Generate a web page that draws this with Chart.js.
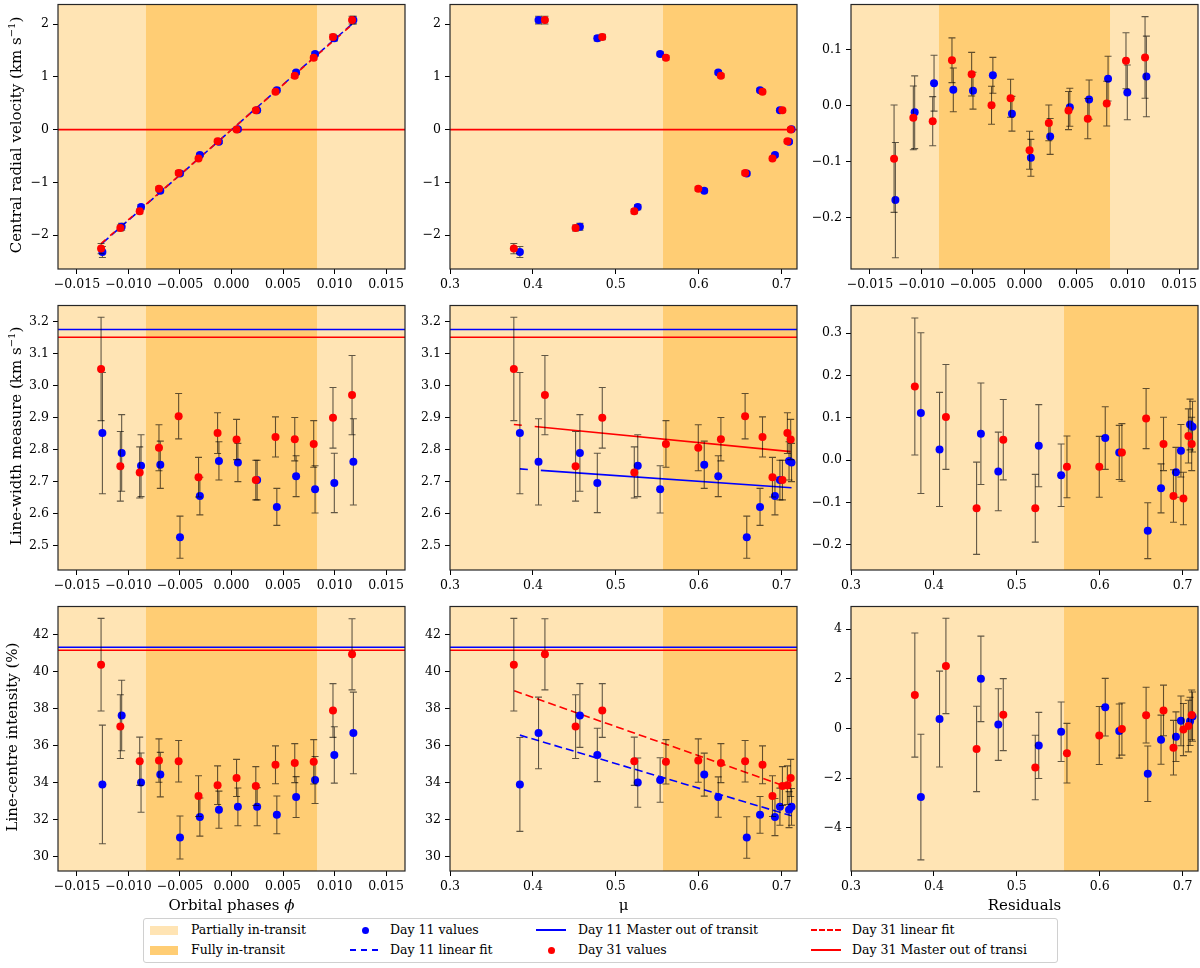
<!DOCTYPE html>
<html>
<head>
<meta charset="utf-8">
<script src="https://cdn.jsdelivr.net/npm/chart.js@4.4.0/dist/chart.umd.min.js"></script>
<style>
  body { margin: 0; background: #fff; width: 1200px; height: 968px; position: relative; overflow: hidden;
         font-family: 'DejaVu Serif', serif; color: #000; }
  canvas { position: absolute; }
  .ytitle { position: absolute; width: 320px; height: 20px; line-height: 20px; text-align: center;
            font-size: 15px; white-space: nowrap; transform: rotate(-90deg); }
  .xtitle { position: absolute; width: 300px; text-align: center; font-size: 15px; white-space: nowrap; }
  #legend { position: absolute; left: 143px; top: 918px; width: 913px; height: 43px;
            border: 1px solid #d0d0d0; border-radius: 3px; background: #fff; }
  .lg { position: absolute; font-size: 12.5px; white-space: nowrap; line-height: 16px; }
  .patch { position: absolute; width: 28px; height: 9px; }
  .dot { position: absolute; width: 7px; height: 7px; border-radius: 50%; }
  .ln { position: absolute; width: 30px; height: 0; border-top-width: 2px; }
</style>
</head>
<body>
<script>
// ---- data ----
var phase31 = [-0.01266, -0.01079, -0.00891, -0.00704, -0.00513, -0.00320, -0.00135, 0.00049, 0.00236, 0.00427, 0.00614, 0.00798, 0.00985, 0.01170];
var phase11 = [-0.01253, -0.01066, -0.00878, -0.00691, -0.00500, -0.00307, -0.00122, 0.00062, 0.00249, 0.00440, 0.00627, 0.00811, 0.00998, 0.01183];
var mu31 = [0.3770, 0.4515, 0.5223, 0.5995, 0.6560, 0.6890, 0.7070, 0.7110, 0.7010, 0.6770, 0.6268, 0.5605, 0.4837, 0.4145];
var mu11 = [0.3843, 0.4567, 0.5265, 0.6067, 0.6580, 0.6920, 0.7090, 0.7120, 0.6980, 0.6740, 0.6236, 0.5535, 0.4777, 0.4068];

var rv31 = [-2.254, -1.863, -1.548, -1.121, -0.821, -0.548, -0.220, 0.001, 0.368, 0.715, 1.019, 1.360, 1.754, 2.075];
var rv11 = [-2.318, -1.841, -1.467, -1.158, -0.832, -0.479, -0.231, 0.009, 0.368, 0.747, 1.082, 1.434, 1.730, 2.075];
var rvErr31 = [0.096, 0.057, 0.044, 0.040, 0.039, 0.034, 0.034, 0.034, 0.032, 0.034, 0.036, 0.040, 0.050, 0.073];
var rvErr11 = [0.103, 0.065, 0.050, 0.039, 0.033, 0.032, 0.031, 0.033, 0.032, 0.034, 0.035, 0.040, 0.049, 0.072];
var rvRes31 = [-0.095, -0.022, -0.028, 0.081, 0.056, 0.0005, 0.013, -0.080, -0.031, -0.009, -0.0235, 0.0035, 0.080, 0.086];
var rvRes11 = [-0.169, -0.012, 0.040, 0.028, 0.0265, 0.054, -0.0147, -0.0935, -0.0553, -0.003, 0.0106, 0.048, 0.0235, 0.052];

var lw31 = [3.053, 2.748, 2.729, 2.806, 2.905, 2.714, 2.852, 2.832, 2.705, 2.840, 2.833, 2.818, 2.900, 2.971];
var lw11 = [2.852, 2.790, 2.750, 2.753, 2.526, 2.655, 2.765, 2.760, 2.705, 2.621, 2.717, 2.676, 2.696, 2.762];
var lwErr31 = [0.162, 0.109, 0.080, 0.072, 0.071, 0.062, 0.064, 0.063, 0.062, 0.063, 0.068, 0.073, 0.095, 0.124];
var lwErr11 = [0.190, 0.120, 0.097, 0.074, 0.066, 0.059, 0.060, 0.060, 0.062, 0.058, 0.064, 0.074, 0.093, 0.135];
var lwRes31 = [0.174, -0.114, -0.114, -0.016, 0.098, -0.085, 0.057, 0.038, -0.091, 0.038, 0.018, -0.016, 0.048, 0.102];
var lwRes11 = [0.111, 0.062, 0.034, 0.052, -0.167, -0.029, 0.084, 0.079, 0.022, -0.067, 0.018, -0.036, -0.027, 0.025];

var int31 = [40.36, 37.02, 35.15, 35.19, 35.15, 33.27, 33.86, 34.25, 33.81, 34.96, 35.05, 35.12, 37.89, 40.92];
var int11 = [33.90, 37.62, 34.00, 34.43, 31.04, 32.14, 32.54, 32.69, 32.70, 32.26, 33.22, 34.14, 35.49, 36.68];
var intErr31 = [2.50, 1.72, 1.30, 1.17, 1.12, 1.10, 1.04, 1.00, 1.05, 1.02, 1.05, 1.20, 1.45, 1.92];
var intErr11 = [3.20, 1.90, 1.60, 1.20, 1.16, 1.03, 1.00, 1.02, 1.03, 1.02, 1.10, 1.27, 1.52, 2.20];
// day 11 error bars as drawn in the mu and residual panels
var intErrMu11 = [2.53, 1.72, 1.33, 1.16, 1.12, 1.00, 0.97, 0.99, 1.00, 0.99, 1.09, 1.20, 1.44, 1.93];
var intRes31 = [1.35, -0.82, -1.57, -0.28, 0.54, -0.77, 0.10, 0.55, -0.04, 0.73, -0.02, -0.99, 0.56, 2.52];
var intRes11 = [-2.76, 2.00, -0.68, 0.86, -1.82, -0.33, 0.29, 0.48, 0.31, -0.45, -0.10, -0.13, 0.16, 0.38];

// master out of transit [day 11, day 31]
var rvMaster = [0, 0];
var lwMaster = [3.1765, 3.152];
var intMaster = [41.30, 41.14];

// linear fits (end points)
var rvFitX11 = [-0.01253, 0.01183], rvFitY11 = [-2.149, 2.023];
var rvFitX31 = [-0.01266, 0.01170], rvFitY31 = [-2.159, 1.989];
var lwFitX11 = [0.3843, 0.712], lwFitY11 = [2.740, 2.681];
var lwFitX31 = [0.3770, 0.711], lwFitY31 = [2.879, 2.794];
var intFitX11 = [0.3843, 0.712], intFitY11 = [36.56, 32.21];
var intFitX31 = [0.3775, 0.711], intFitY31 = [38.95, 33.70];

// fully in-transit zones
var phaseFull = [-0.0083, 0.0083];
var muFull = [0.557, 0.75];

// ticks
var phaseTicks = [-0.015, -0.010, -0.005, 0, 0.005, 0.010, 0.015];
var muTicks = [0.3, 0.4, 0.5, 0.6, 0.7];
var rvTicks = [-2, -1, 0, 1, 2];
var rvResTicks = [-0.2, -0.1, 0, 0.1];
var lwTicks = [2.5, 2.6, 2.7, 2.8, 2.9, 3.0, 3.1, 3.2];
var lwResTicks = [-0.2, -0.1, 0, 0.1, 0.2, 0.3];
var intTicks = [30, 32, 34, 36, 38, 40, 42];
var intResTicks = [-4, -2, 0, 2, 4];

var BLUE = '#0000ff', RED = '#ff0000';
var LIGHT = 'rgb(255,228,180)', DARK = 'rgb(255,205,116)';

// layout
var COL_LEFT = [58, 450, 851], ROW_TOP = [1, 302, 603], PW = 347, PH = 268;
var L = 50, R = 14, T = 8, B = 26;

var FONT = { family: "'DejaVu Serif', serif", size: 12.5 };

function fmt(d) {
  return function(v) { var s = Math.abs(v).toFixed(d); return (v < -1e-12 ? '\u2212' : '') + s; };
}

function pts(xs, ys) { return xs.map(function(x, i) { return { x: x, y: ys[i] }; }); }

var shadePlugin = {
  id: 'shade',
  beforeDraw: function(chart, args, opts) {
    var a = chart.chartArea, ctx = chart.ctx, xs = chart.scales.x;
    ctx.save();
    ctx.fillStyle = LIGHT;
    ctx.fillRect(a.left, a.top, a.right - a.left, a.bottom - a.top);
    var x0 = Math.max(a.left, xs.getPixelForValue(opts.zone[0]));
    var x1 = Math.min(a.right, xs.getPixelForValue(opts.zone[1]));
    ctx.fillStyle = DARK;
    ctx.fillRect(x0, a.top, x1 - x0, a.bottom - a.top);
    ctx.restore();
  }
};

var hlinePlugin = {
  id: 'hlines',
  beforeDatasetsDraw: function(chart, args, opts) {
    if (!opts.values) return;
    var a = chart.chartArea, ctx = chart.ctx, ys = chart.scales.y;
    ctx.save();
    ctx.lineWidth = 1.6;
    [BLUE, RED].forEach(function(col, i) {
      // the day 11 line is hidden when both masters coincide
      if (i === 0 && opts.values[0] === opts.values[1]) return;
      var y = ys.getPixelForValue(opts.values[i]);
      ctx.strokeStyle = col;
      ctx.beginPath(); ctx.moveTo(a.left, y); ctx.lineTo(a.right, y); ctx.stroke();
    });
    ctx.restore();
  }
};

var errPlugin = {
  id: 'errbars',
  beforeDatasetDraw: function(chart, args) {
    var ds = chart.data.datasets[args.index];
    if (!ds.err) return;
    var ctx = chart.ctx, xs = chart.scales.x, ys = chart.scales.y, a = chart.chartArea;
    ctx.save();
    ctx.beginPath(); ctx.rect(a.left, a.top, a.right - a.left, a.bottom - a.top); ctx.clip();
    ctx.strokeStyle = 'rgba(0,0,0,0.62)';
    ctx.lineWidth = 1.1;
    ds.data.forEach(function(p, i) {
      var px = xs.getPixelForValue(p.x);
      var y1 = ys.getPixelForValue(p.y - ds.err[i]);
      var y2 = ys.getPixelForValue(p.y + ds.err[i]);
      ctx.beginPath();
      ctx.moveTo(px, y1); ctx.lineTo(px, y2);
      ctx.moveTo(px - 3.5, y1); ctx.lineTo(px + 3.5, y1);
      ctx.moveTo(px - 3.5, y2); ctx.lineTo(px + 3.5, y2);
      ctx.stroke();
    });
    ctx.restore();
  }
};

var framePlugin = {
  id: 'frame',
  afterDraw: function(chart) {
    var a = chart.chartArea, ctx = chart.ctx;
    ctx.save();
    ctx.strokeStyle = '#262626';
    ctx.lineWidth = 1.2;
    ctx.strokeRect(a.left, a.top, a.right - a.left, a.bottom - a.top);
    ctx.restore();
  }
};

function axis(range, ticks, dec, isX) {
  return {
    type: 'linear',
    min: range[0], max: range[1],
    afterBuildTicks: function(s) { s.ticks = ticks.map(function(v) { return { value: v }; }); },
    afterFit: function(s) { if (isX) s.height = B; else s.width = L; },
    ticks: { callback: fmt(dec), font: FONT, color: '#000', padding: isX ? 3 : 4,
             autoSkip: false, maxRotation: 0, minRotation: 0 },
    grid: { display: true, drawOnChartArea: false, drawTicks: true, tickLength: 5, color: '#000', lineWidth: 1 },
    border: { display: false }
  };
}

function scatterSet(xs, ys, err, color, order) {
  return { type: 'scatter', data: pts(xs, ys), err: err, backgroundColor: color, borderColor: color,
           pointRadius: 4, pointBorderWidth: 0, pointHoverRadius: 4, order: order };
}

function lineSet(xs, ys, color, dash, order) {
  return { type: 'line', data: pts(xs, ys), borderColor: color, borderWidth: 1.6, borderDash: dash,
           pointRadius: 0, fill: false, tension: 0, order: order };
}

function panel(col, row, p) {
  var c = document.createElement('canvas');
  var w = L + PW + R, h = T + PH + B;
  c.width = w; c.height = h;
  c.style.left = (COL_LEFT[col] - L) + 'px';
  c.style.top = (ROW_TOP[row] - T) + 'px';
  c.style.width = w + 'px'; c.style.height = h + 'px';
  document.body.appendChild(c);
  var sets = [
    scatterSet(p.x11, p.y11, p.e11, BLUE, 2),
    scatterSet(p.x31, p.y31, p.e31, RED, 1)
  ];
  (p.lines || []).forEach(function(l) { sets.push(l); });
  new Chart(c, {
    type: 'scatter',
    data: { datasets: sets },
    options: {
      responsive: false, animation: false, devicePixelRatio: 1,
      layout: { padding: { left: 0, right: R, top: T, bottom: 0 } },
      plugins: { legend: { display: false }, tooltip: { enabled: false },
                 shade: { zone: p.zone }, hlines: { values: p.master } },
      scales: { x: axis(p.xr, p.xt, p.xd, true), y: axis(p.yr, p.yt, p.yd, false) }
    },
    plugins: [shadePlugin, hlinePlugin, errPlugin, framePlugin]
  });
}

var phaseRange = [-0.01684, 0.01684], muRange = [0.3, 0.7186];
var rvRange = [-2.64, 2.37], rvResRange = [-0.2922, 0.1806];
var lwRange = [2.4234, 3.2516], lwResRange = [-0.26, 0.3654];
var intRange = [29.23, 43.50], intResRange = [-5.736, 4.914];

var dash = [8, 4];
var longDash = [8, 13, 3000];

// row 1: central radial velocity
panel(0, 0, { x11: phase11, y11: rv11, e11: rvErr11, x31: phase31, y31: rv31, e31: rvErr31,
  xr: phaseRange, xt: phaseTicks, xd: 3, yr: rvRange, yt: rvTicks, yd: 0, zone: phaseFull, master: rvMaster,
  lines: [lineSet(rvFitX11, rvFitY11, BLUE, dash, 4), lineSet(rvFitX31, rvFitY31, RED, [6, 6], 3)] });
panel(1, 0, { x11: mu11, y11: rv11, e11: rvErr11, x31: mu31, y31: rv31, e31: rvErr31,
  xr: muRange, xt: muTicks, xd: 1, yr: rvRange, yt: rvTicks, yd: 0, zone: muFull, master: rvMaster });
panel(2, 0, { x11: phase11, y11: rvRes11, e11: rvErr11, x31: phase31, y31: rvRes31, e31: rvErr31,
  xr: phaseRange, xt: phaseTicks, xd: 3, yr: rvResRange, yt: rvResTicks, yd: 1, zone: phaseFull });

// row 2: line width
panel(0, 1, { x11: phase11, y11: lw11, e11: lwErr11, x31: phase31, y31: lw31, e31: lwErr31,
  xr: phaseRange, xt: phaseTicks, xd: 3, yr: lwRange, yt: lwTicks, yd: 1, zone: phaseFull, master: lwMaster });
panel(1, 1, { x11: mu11, y11: lw11, e11: lwErr11, x31: mu31, y31: lw31, e31: lwErr31,
  xr: muRange, xt: muTicks, xd: 1, yr: lwRange, yt: lwTicks, yd: 1, zone: muFull, master: lwMaster,
  lines: [lineSet(lwFitX11, lwFitY11, BLUE, longDash, 4), lineSet(lwFitX31, lwFitY31, RED, longDash, 3)] });
panel(2, 1, { x11: mu11, y11: lwRes11, e11: lwErr11, x31: mu31, y31: lwRes31, e31: lwErr31,
  xr: muRange, xt: muTicks, xd: 1, yr: lwResRange, yt: lwResTicks, yd: 1, zone: muFull });

// row 3: line-centre intensity
panel(0, 2, { x11: phase11, y11: int11, e11: intErr11, x31: phase31, y31: int31, e31: intErr31,
  xr: phaseRange, xt: phaseTicks, xd: 3, yr: intRange, yt: intTicks, yd: 0, zone: phaseFull, master: intMaster });
panel(1, 2, { x11: mu11, y11: int11, e11: intErrMu11, x31: mu31, y31: int31, e31: intErr31,
  xr: muRange, xt: muTicks, xd: 1, yr: intRange, yt: intTicks, yd: 0, zone: muFull, master: intMaster,
  lines: [lineSet(intFitX11, intFitY11, BLUE, dash, 4), lineSet(intFitX31, intFitY31, RED, dash, 3)] });
panel(2, 2, { x11: mu11, y11: intRes11, e11: intErrMu11, x31: mu31, y31: intRes31, e31: intErr31,
  xr: muRange, xt: muTicks, xd: 1, yr: intResRange, yt: intResTicks, yd: 0, zone: muFull });

// axis titles
function addDiv(cls, html, left, top) {
  var d = document.createElement('div');
  d.className = cls; d.innerHTML = html;
  d.style.left = left + 'px'; d.style.top = top + 'px';
  document.body.appendChild(d);
  return d;
}
var yTitles = ['Central radial velocity (km s<sup style="font-size:10px">\u22121</sup>)',
               'Line-width measure (km s<sup style="font-size:10px">\u22121</sup>)',
               'Line-centre intensity (%)'];
yTitles.forEach(function(t, i) {
  var cy = ROW_TOP[i] + PH / 2;
  addDiv('ytitle', t, 12 - 160, cy - 10);
});
var xTitles = ['Orbital phases <i>\u03d5</i>', '\u03bc', 'Residuals'];
xTitles.forEach(function(t, i) {
  addDiv('xtitle', t, COL_LEFT[i] + PW / 2 - 150, 896);
});

// legend
var LG_LEFT = 143, LG_TOP = 918;
var lg = document.createElement('div');
lg.id = 'legend';
document.body.appendChild(lg);
function lgItem(html, x, y) {
  var d = document.createElement('div');
  d.className = 'lg'; d.innerHTML = html;
  d.style.left = (x - LG_LEFT) + 'px'; d.style.top = (y - LG_TOP - 8) + 'px';
  lg.appendChild(d);
}
function lgBox(cls, css, x, y) {
  var d = document.createElement('div');
  d.className = cls;
  d.style.cssText = css;
  d.style.left = (x - LG_LEFT) + 'px'; d.style.top = (y - LG_TOP) + 'px';
  lg.appendChild(d);
}
var r1 = 929, r2 = 949;
lgBox('patch', 'background:' + LIGHT, 149, r1 - 4.5);
lgItem('Partially in-transit', 190, r1);
lgBox('patch', 'background:' + DARK, 149, r2 - 4.5);
lgItem('Fully in-transit', 190, r2);
lgBox('dot', 'background:' + BLUE, 360.5, r1 - 3.5);
lgItem('Day 11 values', 389, r1);
lgBox('ln', 'border-top:2px dashed ' + BLUE + ';width:28px', 349, r2 - 1);
lgItem('Day 11 linear fit', 389, r2);
lgBox('ln', 'border-top:2px solid ' + BLUE, 535, r1 - 1);
lgItem('Day 11 Master out of transit', 577, r1);
lgBox('dot', 'background:' + RED, 546.5, r2 - 3.5);
lgItem('Day 31 values', 577, r2);
lgBox('ln', 'border-top:2px dashed ' + RED, 810, r1 - 1);
lgItem('Day 31 linear fit', 851, r1);
lgBox('ln', 'border-top:2px solid ' + RED, 810, r2 - 1);
lgItem('Day 31 Master out of transi', 851, r2);
</script>
</body>
</html>
